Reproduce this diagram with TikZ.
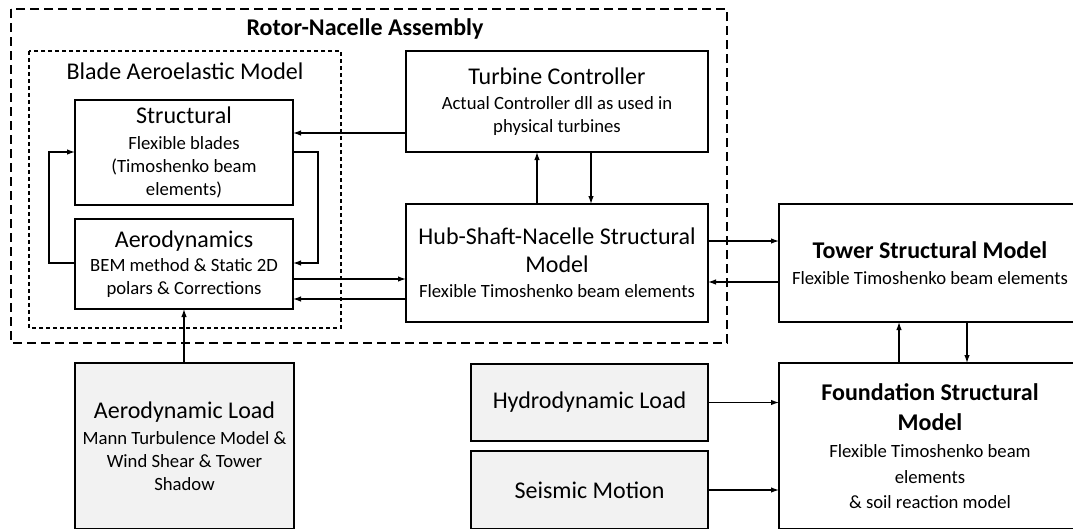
\documentclass[tikz,border=0pt]{standalone}
\usepackage{fontspec}
\setmainfont{Carlito}
\usetikzlibrary{arrows.meta}
\tikzset{>={Latex[length=8pt,width=5.5pt]}}
\newcommand\bigtxt{\fontsize{24}{29}\selectfont}
\newcommand\smalltxt{\fontsize{18.7}{23}\selectfont}
\tikzset{
	block/.style={draw, line width=1.3pt, align=center, inner sep=0pt, outer sep=0pt, font=\smalltxt},
	load/.style={block, fill=gray!10},
	link/.style={->, line width=1.2pt},
}

\begin{document}
\begin{tikzpicture}[x=1pt, y=-1pt]
	\path[use as bounding box] (0,0) rectangle (1073,528);
	\clip (0,0) rectangle (1073,528);
	\draw[line width=1.2pt, dash pattern=on 9pt off 5pt] (11,9) rectangle (727,343);
	\draw[line width=1.1pt, dash pattern=on 4pt off 3pt] (29,51) rectangle (341,328);
	\node[font=\bigtxt\bfseries] (rna) at (365,29) {Rotor-Nacelle Assembly};
	\node[font=\bigtxt] (bam) at (185,71) {Blade Aeroelastic Model};
	\node[block, minimum width=218pt, minimum height=105pt] (struct) at (184,152.5) {{\bigtxt Structural}\\[3pt]Flexible blades\\(Timoshenko beam\\elements)};
	\node[block, minimum width=218pt, minimum height=90pt] (aero) at (184,264) {{\bigtxt Aerodynamics}\\[1pt]BEM method \& Static 2D\\polars \& Corrections};
	\node[block, minimum width=302pt, minimum height=101pt] (ctrl) at (557,101.5) {{\bigtxt Turbine Controller}\\[2pt]Actual Controller dll as used in\\physical turbines};
	\node[block, minimum width=302pt, minimum height=118pt] (hub) at (557,263) {{\bigtxt Hub-Shaft-Nacelle Structural}\\[5pt]{\bigtxt Model}\\[2pt]Flexible Timoshenko beam elements};
	\node[block, minimum width=302pt, minimum height=118pt] (tower) at (930,263) {{\bigtxt\bfseries Tower Structural Model}\\[3pt]Flexible Timoshenko beam elements};
	\node[block, minimum width=302pt, minimum height=166pt] (found) at (930,446) {{\bigtxt\bfseries Foundation Structural}\\[7pt]{\bigtxt\bfseries Model}\\[4pt]Flexible Timoshenko beam\\[3pt]elements\\[2pt]\& soil reaction model};
	\node[load, minimum width=219pt, minimum height=166pt] (aload) at (184.5,446) {{\bigtxt Aerodynamic Load}\\[3pt]Mann Turbulence Model \&\\Wind Shear \& Tower\\Shadow};
	\node[load, font=\bigtxt, minimum width=237pt, minimum height=77pt] (hydro) at (589.5,402.5) {Hydrodynamic Load};
	\node[load, font=\bigtxt, minimum width=237pt, minimum height=78pt] (seis) at (589.5,490) {Seismic Motion};
	\draw[link] (ctrl.west |- 0,133) -- (struct.east |- 0,133);
	\draw[link] (struct.east |- 0,152) -- ++(25,0) |- (aero.east |- 0,263);
	\draw[link] (aero.west |- 0,263) -- ++(-26,0) |- (struct.west |- 0,152);
	\draw[link] (aero.east |- 0,279) -- (hub.west |- 0,279);
	\draw[link] (hub.west |- 0,299) -- (aero.east |- 0,299);
	\draw[link] (hub.north -| 537,0) -- (ctrl.south -| 537,0);
	\draw[link] (ctrl.south -| 591,0) -- (hub.north -| 591,0);
	\draw[link] (hub.east |- 0,241) -- (tower.west |- 0,241);
	\draw[link] (tower.west |- 0,282) -- (hub.east |- 0,282);
	\draw[link] (found.north -| 899,0) -- (tower.south -| 899,0);
	\draw[link] (tower.south -| 967,0) -- (found.north -| 967,0);
	\draw[link] (hydro.east) -- (found.west |- hydro.east);
	\draw[link] (seis.east) -- (found.west |- seis.east);
	\draw[link] (aload.north -| aero.south) -- (aero.south);
\end{tikzpicture}
\end{document}
